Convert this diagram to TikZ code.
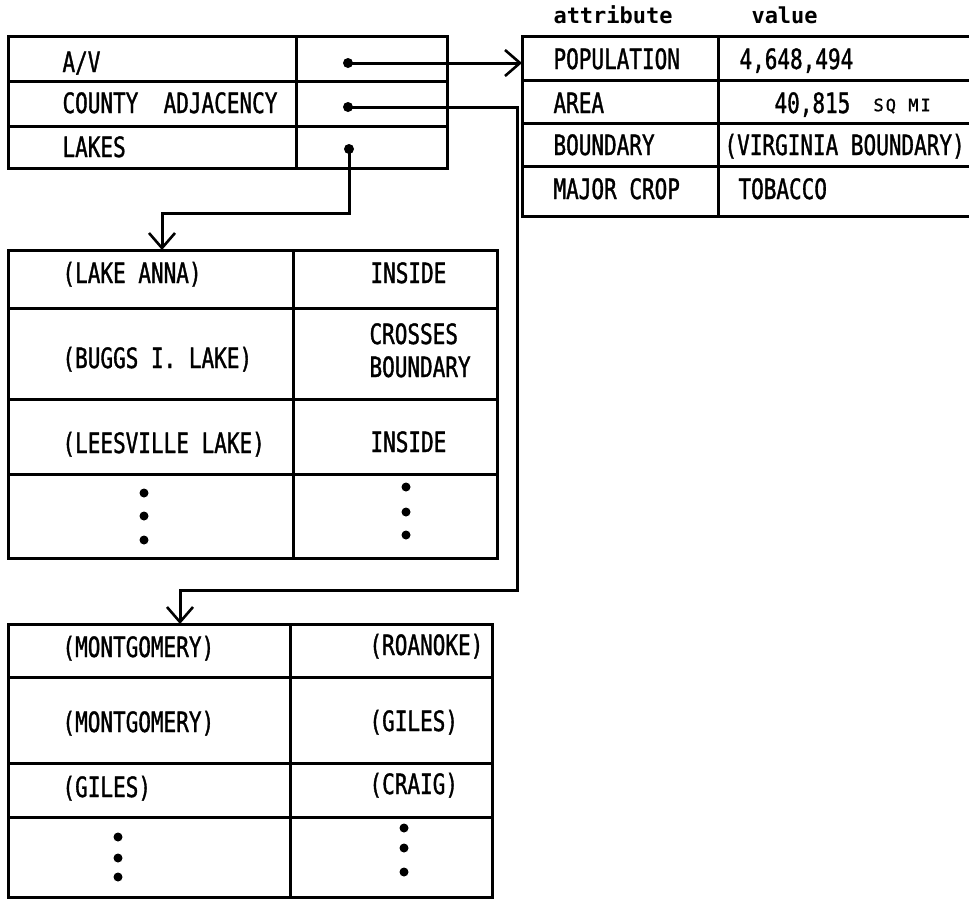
\documentclass[tikz,border=0pt]{standalone}
\usepackage{fontspec}
\newfontfamily\cellfont{DejaVu Sans Mono}[FakeStretch=0.75,FakeBold=1.2]
\newfontfamily\headfont{DejaVu Sans Mono}
\newfontfamily\unitfont{DejaVu Sans Mono}[LetterSpace=12,FakeBold=1.2]
\usetikzlibrary{arrows.meta}
\begin{document}
\begin{tikzpicture}[x=1pt,y=-1pt,line width=3pt,
  tx/.style={font={\cellfont\fontsize{28}{30}\selectfont},inner sep=0pt,text height=20pt,text depth=0pt,anchor=west},
  hd/.style={font={\headfont\bfseries\fontsize{22}{24}\selectfont},inner sep=0pt,anchor=west},
  dotmark/.style={circle,fill,inner sep=0pt,minimum size=10pt},
  bigdot/.style={circle,fill,inner sep=0pt,minimum size=9pt},
  arr/.style={-{Straight Barb[length=15pt,width=26pt,line width=2.6pt]}}]
\useasboundingbox (0,0) rectangle (969,900);
\clip (0,0) rectangle (969,900);
\fill[white] (0,0) rectangle (969,900);

% ---------- top-left table ----------
\draw (8,36) rectangle (447,168);
\draw (296,36) -- (296,168);
\draw (8,81) -- (447,81);
\draw (8,126) -- (447,126);
\node[tx] (av) at (61,62) {A/V};
\node[tx] (ca) at (61,103) {COUNTY\ \ ADJACENCY};
\node[tx] (lakes) at (61,147) {LAKES};

% ---------- top-right table ----------
\node[hd] (hattr) at (552,15) {attribute};
\node[hd] (hval) at (750,15) {value};
\draw (522,36) rectangle (980,216);
\draw (718,36) -- (718,216);
\draw (522,80) -- (980,80);
\draw (522,123) -- (980,123);
\draw (522,166) -- (980,166);
\node[tx] (pop) at (552,59) {POPULATION};
\node[tx] (popv) at (738,59) {4,648,494};
\node[tx] (area) at (552,103) {AREA};
\node[tx] (areav) at (773,103) {40,815};
\node[font={\unitfont\fontsize{17}{19}\selectfont},inner sep=0pt,anchor=west] (unit) at (872,106) {SQ MI};
\node[tx] (bnd) at (552,145) {BOUNDARY};
\node[tx] (bndv) at (723,145) {(VIRGINIA BOUNDARY)};
\node[tx] (crop) at (552,189) {MAJOR CROP};
\node[tx] (cropv) at (737,189) {TOBACCO};

% ---------- lakes table ----------
\draw (8,250) rectangle (497,558);
\draw (293,250) -- (293,558);
\draw (8,308) -- (497,308);
\draw (8,399) -- (497,399);
\draw (8,474) -- (497,474);
\node[tx] (l1) at (61,273) {(LAKE ANNA)};
\node[tx] (r1) at (369,273) {INSIDE};
\node[tx] (l2) at (61,358) {(BUGGS I. LAKE)};
\node[tx] (r2a) at (368,334) {CROSSES};
\node[tx] (r2b) at (368,367) {BOUNDARY};
\node[tx] (l3) at (61,443) {(LEESVILLE LAKE)};
\node[tx] (r3) at (369,442) {INSIDE};
\node[bigdot] (ld1) at (144,493) {};
\node[bigdot] (ld2) at (144,516) {};
\node[bigdot] (ld3) at (144,540) {};
\node[bigdot] (rd1) at (406,487) {};
\node[bigdot] (rd2) at (406,512) {};
\node[bigdot] (rd3) at (406,535) {};

% ---------- adjacency table ----------
\draw (8,624) rectangle (492,897);
\draw (290,624) -- (290,897);
\draw (8,677) -- (492,677);
\draw (8,763) -- (492,763);
\draw (8,817) -- (492,817);
\node[tx] (b1l) at (61,647) {(MONTGOMERY)};
\node[tx] (b1r) at (368,645) {(ROANOKE)};
\node[tx] (b2l) at (61,722) {(MONTGOMERY)};
\node[tx] (b2r) at (368,721) {(GILES)};
\node[tx] (b3l) at (61,787) {(GILES)};
\node[tx] (b3r) at (368,784) {(CRAIG)};
\node[bigdot] (bd1) at (118,837) {};
\node[bigdot] (bd2) at (118,858) {};
\node[bigdot] (bd3) at (118,877) {};
\node[bigdot] (be1) at (404,828) {};
\node[bigdot] (be2) at (404,848) {};
\node[bigdot] (be3) at (404,872) {};

% ---------- pointers ----------
\node[dotmark] (p1) at (348,63) {};
\node[dotmark] (p2) at (348,107) {};
\node[dotmark] (p3) at (349,149) {};
\coordinate (poptarget) at (522,63);
\coordinate (laketarget) at (162,250);
\coordinate (adjtarget) at (180,624);
\coordinate (lakebend) at (349,213);
\coordinate (adjbend) at (517,590);
\draw[arr] (p1.center) -- (poptarget);
\draw[arr] (p3.center) -- (lakebend) -| (laketarget);
\draw[arr] (p2.center) -| (adjbend) -| (adjtarget);
\end{tikzpicture}
\end{document}
